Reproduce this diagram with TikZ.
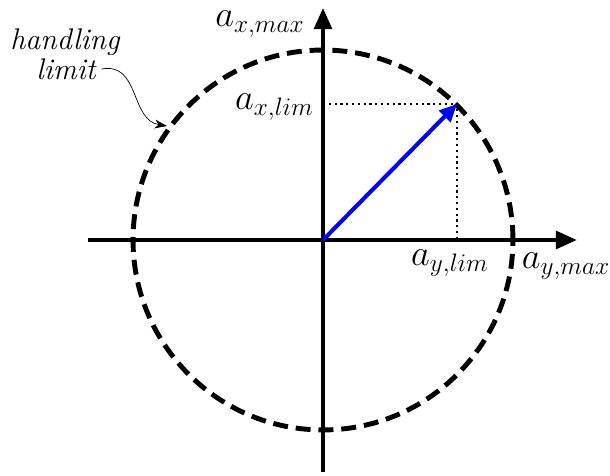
\documentclass[tikz,border=0pt]{standalone}
\usepackage{amsmath}
\usepackage{xcolor}
\usepackage{tikz}
\usetikzlibrary{arrows.meta, positioning, calc}
\definecolor{vecblue}{RGB}{0,0,255}

\begin{document}
\begin{tikzpicture}[
  x=0.02cm, y=0.02cm,
  every node/.style={font=\fontsize{20}{24}\selectfont},
  axisline/.style={line width=2.3pt, -{Triangle[length=12pt,width=10pt]}},
  limitcircle/.style={line width=2.8pt, dash pattern=on 8.5pt off 4.5pt},
  guideline/.style={dotted, line width=1.3pt},
  vecline/.style={vecblue, line width=2.3pt, -{Triangle[length=10pt,width=9pt]}},
  notetext/.style={font=\fontsize{17}{20}\selectfont\itshape},
]
  \useasboundingbox (-323,-236) rectangle (287,240);

  % Axes
  \coordinate (O) at (0,0);
  \coordinate (yleft) at (-235,0);
  \coordinate (yright) at (254,0);
  \coordinate (xbottom) at (0,-232);
  \coordinate (xtop) at (0,232);
  \draw[axisline] (yleft) -- (yright);
  \draw[axisline] (xbottom) -- (xtop);

  % Handling limit circle
  \draw[limitcircle] (O) circle (3.8cm);

  % Limit point and its projections
  \coordinate (P) at (134,136);
  \coordinate (Px) at (0,136);
  \coordinate (Py) at (134,0);
  \draw[guideline] (Px) -- (P) -- (Py);
  \draw[vecline] (O) -- (P);

  % Labels
  \node[inner sep=2pt] (axmax) at (-63,216) {$a_{x,max}$};
  \node[anchor=east] (axlim) at (-3,133) {$a_{x,lim}$};
  \node (aylim) at (127,-23) {$a_{y,lim}$};
  \node (aymax) at (243,-26) {$a_{y,max}$};

  \node[notetext] (handl) at (-258,198) {handling};
  \node[notetext] (limit) at (-257,171) {limit};
  \coordinate (onlimit) at (-156,114);
  \draw[-{Stealth[length=7pt,width=5pt]}, thin]
      (limit.east) .. controls (-183,178) and (-193,120) .. (onlimit);
\end{tikzpicture}
\end{document}
